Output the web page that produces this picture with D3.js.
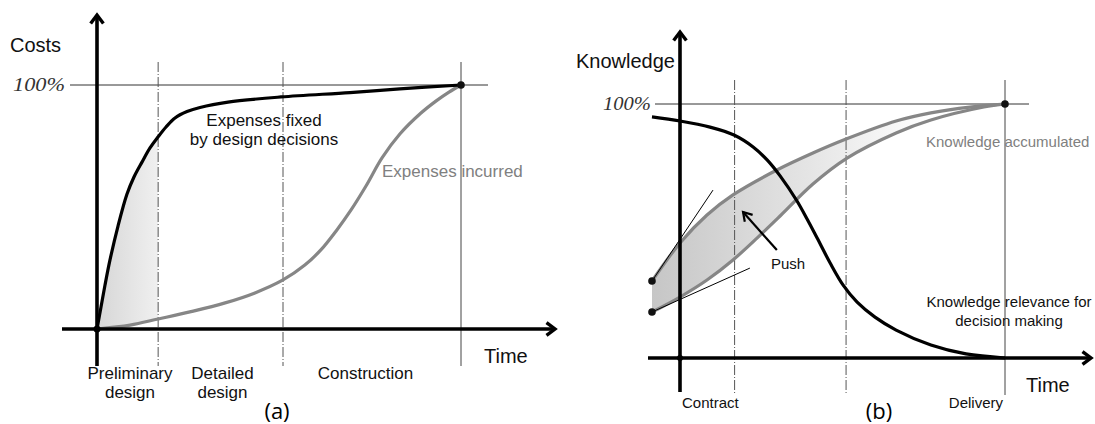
<!DOCTYPE html>
<html>
<head>
<meta charset="utf-8">
<script src="https://cdn.jsdelivr.net/npm/d3@7"></script>
<style>
  html, body { margin: 0; padding: 0; background: #fff; }
  svg { display: block; }
  .sans { font-family: "Liberation Sans", Arial, sans-serif; }
</style>
</head>
<body>
<svg id="chart" width="1095" height="424"></svg>
<script>
// ---- Data -------------------------------------------------------------
// Time is a fraction of the whole project (0 = start, 1 = delivery).
const phaseBounds = [0.168, 0.511];          // end of preliminary design, end of detailed design
const phaseLabels = [["Preliminary", "design"], ["Detailed", "design"], ["Construction"]];
const milestoneLabels = ["Contract", "Delivery"];

// (a) cost curves, % of total cost
const fixedT    = [0, 0.011, 0.022, 0.0357, 0.0577, 0.0824, 0.1016, 0.1236, 0.1456, 0.1676, 0.1896, 0.2143, 0.2473, 0.283, 0.36, 0.5055, 0.695, 0.832, 1];
const fixedVals = [0, 9.0,   18.0,  28.3,   42.2,   55.3,   62.3,   68.4,   74.2,   78.7,   82.8,   86.5,   89.1,   90.8,  93.0, 95.1,   96.9,  98.4,  100];
const incurredT    = [0, 0.091, 0.168, 0.255, 0.352, 0.434, 0.511, 0.571, 0.615, 0.657, 0.698, 0.739, 0.783, 0.832, 0.89, 0.931, 0.967, 1];
const incurredVals = [0, 1.6,   4.1,   7.0,   10.7,  14.8,  20.1,  26.2,  32.4,  40.2,  48.8,  58.6,  70.1,  79.9,  88.5, 93.4,  97.1,  100];

// (b) knowledge curves, %
const relevanceT    = [-0.0862, 0, 0.0923, 0.166, 0.225, 0.268, 0.308, 0.36, 0.391, 0.422, 0.462, 0.502, 0.545, 0.6, 0.665, 0.772, 0.88, 1];
const relevanceVals = [94.9,   93.3, 90.9, 87.8,  83.1,  78.0,  71.7,  61.8, 54.7,  47.2,  37.4,  28.7,  22.0,  16.1, 11.0, 5.1,   1.6,  0];
const upperT    = [-0.0862, 0, 0.083, 0.163, 0.298, 0.409, 0.511, 0.665, 0.772, 0.892, 1];
const upperVals = [30.3,   45.3, 56.3, 64.2, 74.0,  80.7,  86.2,  93.3,  96.5,  98.8,  100];
const lowerT    = [-0.0862, 0, 0.083, 0.163, 0.237, 0.308, 0.409, 0.514, 0.665, 0.772, 0.935, 1];
const lowerVals = [18.1,   24.0, 30.7, 38.6, 47.2,  55.9,  68.5,  78.7,  88.6,  93.7,  98.8,  100];
// tangents at the start of the accumulated-knowledge band, and the "push" arrow
const upperTangent = [[-0.0862, 30.3], [0.1015, 66.1]];
const lowerTangent = [[-0.0862, 18.1], [0.215, 35.4]];
const pushArrow    = [[0.298, 42.5], [0.194, 57.5]];

const zip = (ts, vs) => ts.map((t, i) => ({ t, v: vs[i] }));
const smooth = d3.curveCatmullRom.alpha(0.5);

// ---- Setup ------------------------------------------------------------
const svg = d3.select("#chart");
const defs = svg.append("defs");

const gradA = defs.append("linearGradient").attr("id", "fillA")
  .attr("gradientUnits", "userSpaceOnUse").attr("x1", 97).attr("x2", 158).attr("y1", 0).attr("y2", 0);
gradA.append("stop").attr("offset", 0).attr("stop-color", "#d6d6d6");
gradA.append("stop").attr("offset", 1).attr("stop-color", "#f0f0f0");

const gradB = defs.append("linearGradient").attr("id", "fillB")
  .attr("gradientUnits", "userSpaceOnUse").attr("x1", 652).attr("x2", 930).attr("y1", 0).attr("y2", 0);
gradB.append("stop").attr("offset", 0).attr("stop-color", "#c6c6c6");
gradB.append("stop").attr("offset", 0.55).attr("stop-color", "#e4e4e4");
gradB.append("stop").attr("offset", 1).attr("stop-color", "#ffffff");

function arrowHead(g, x, y, dir, size) {
  // open chevron arrow head; dir: "up" or "right"
  const s = size;
  const d = dir === "up"
    ? `M${x - s * 0.75},${y + s} L${x},${y} L${x + s * 0.75},${y + s}`
    : `M${x - s},${y - s * 0.75} L${x},${y} L${x - s},${y + s * 0.75}`;
  g.append("path").attr("d", d).attr("fill", "none").attr("stroke", "#000")
    .attr("stroke-width", 3.4).attr("stroke-linejoin", "miter").attr("stroke-linecap", "butt");
}

function drawAxes(g, ox, oy, yTop, yBottom, xLeft, xRight) {
  g.append("line").attr("x1", ox).attr("x2", ox).attr("y1", yBottom).attr("y2", yTop + 1)
    .attr("stroke", "#000").attr("stroke-width", 3.6);
  arrowHead(g, ox, yTop, "up", 8.5);
  g.append("line").attr("x1", xLeft).attr("x2", xRight - 1).attr("y1", oy).attr("y2", oy)
    .attr("stroke", "#000").attr("stroke-width", 3.6);
  arrowHead(g, xRight, oy, "right", 8.5);
}

function drawGuides(g, x, y, top, bottom, hLeft, hRight) {
  // 100% reference line
  g.append("line").attr("x1", hLeft).attr("x2", hRight).attr("y1", y(100)).attr("y2", y(100))
    .attr("stroke", "#333").attr("stroke-width", 1);
  // phase boundaries
  phaseBounds.forEach(t => {
    g.append("line").attr("x1", x(t)).attr("x2", x(t)).attr("y1", top).attr("y2", bottom)
      .attr("stroke", "#555").attr("stroke-width", 1).attr("stroke-dasharray", "10,2,1,2");
  });
  // end of project
  g.append("line").attr("x1", x(1)).attr("x2", x(1)).attr("y1", top).attr("y2", bottom)
    .attr("stroke", "#444").attr("stroke-width", 1);
}

// ---- Panel (a): costs -------------------------------------------------
{
  const g = svg.append("g");
  const x = d3.scaleLinear().domain([0, 1]).range([97, 461]);
  const y = d3.scaleLinear().domain([0, 100]).range([329, 85]);
  const line = d3.line().x(d => x(d.t)).y(d => y(d.v)).curve(smooth);

  const fixed = zip(fixedT, fixedVals);
  const incurred = zip(incurredT, incurredVals);

  // shaded gap between fixed and incurred costs during preliminary design
  defs.append("clipPath").attr("id", "aboveIncurred").append("path")
    .attr("d", d3.area().x(d => x(d.t)).y0(y(120)).y1(d => y(d.v)).curve(smooth)(incurred));
  defs.append("clipPath").attr("id", "prelimPhase").append("rect")
    .attr("x", x(0)).attr("y", 0).attr("width", x(phaseBounds[0]) - x(0)).attr("height", 424);
  g.append("g").attr("clip-path", "url(#prelimPhase)").append("path")
    .attr("clip-path", "url(#aboveIncurred)")
    .attr("d", d3.area().x(d => x(d.t)).y0(y(0)).y1(d => y(d.v)).curve(smooth)(fixed))
    .attr("fill", "url(#fillA)");

  drawGuides(g, x, y, 62, 366, 70, 488);

  g.append("path").attr("d", line(incurred)).attr("fill", "none")
    .attr("stroke", "#868686").attr("stroke-width", 3.2);
  g.append("path").attr("d", line(fixed)).attr("fill", "none")
    .attr("stroke", "#000").attr("stroke-width", 3.2);

  drawAxes(g, x(0), y(0), 15, 366, 62, 555);

  g.append("circle").attr("cx", x(0)).attr("cy", y(0)).attr("r", 3.5).attr("fill", "#000");
  g.append("circle").attr("cx", x(1)).attr("cy", y(100)).attr("r", 3.8).attr("fill", "#111");

  g.append("text").attr("class", "sans").attr("x", 10).attr("y", 52)
    .attr("font-size", 20).attr("fill", "#111").text("Costs");
  g.append("text").attr("x", 65).attr("y", 91).attr("text-anchor", "end")
    .attr("font-family", "Liberation Serif, serif").attr("font-style", "italic")
    .attr("font-size", 19).attr("textLength", 52).attr("lengthAdjust", "spacingAndGlyphs")
    .attr("fill", "#333").text("100%");

  const fx = g.append("text").attr("class", "sans").attr("text-anchor", "middle")
    .attr("font-size", 17).attr("fill", "#111");
  fx.append("tspan").attr("x", 264).attr("y", 126).text("Expenses fixed");
  fx.append("tspan").attr("x", 264).attr("y", 145).text("by design decisions");

  g.append("text").attr("class", "sans").attr("x", 382).attr("y", 177)
    .attr("font-size", 17).attr("fill", "#808080").text("Expenses incurred");

  g.append("text").attr("class", "sans").attr("x", 484).attr("y", 363)
    .attr("font-size", 20).attr("fill", "#111").text("Time");

  const labelCenters = [130, 222.5, 365.5];
  phaseLabels.forEach((lines, i) => {
    const t = g.append("text").attr("class", "sans").attr("text-anchor", "middle")
      .attr("font-size", 17).attr("fill", "#111");
    lines.forEach((s, j) => t.append("tspan").attr("x", labelCenters[i]).attr("y", 379 + j * 19).text(s));
  });

  g.append("text").attr("x", 277).attr("y", 419).attr("text-anchor", "middle")
    .attr("font-family", "Open Sans, sans-serif").attr("font-size", 22).attr("fill", "#000").text("(a)");
}

// ---- Panel (b): knowledge ---------------------------------------------
{
  const g = svg.append("g");
  const x = d3.scaleLinear().domain([0, 1]).range([680, 1005]);
  const y = d3.scaleLinear().domain([0, 100]).range([358, 104]);
  const line = d3.line().x(d => x(d.t)).y(d => y(d.v)).curve(smooth);

  const relevance = zip(relevanceT, relevanceVals);
  const upper = zip(upperT, upperVals);
  const lower = zip(lowerT, lowerVals);

  // accumulated-knowledge band
  defs.append("clipPath").attr("id", "aboveLower").append("path")
    .attr("d", d3.area().x(d => x(d.t)).y0(y(130)).y1(d => y(d.v)).curve(smooth)(lower));
  g.append("path").attr("clip-path", "url(#aboveLower)")
    .attr("d", d3.area().x(d => x(d.t)).y0(y(0)).y1(d => y(d.v)).curve(smooth)(upper))
    .attr("fill", "url(#fillB)");

  drawGuides(g, x, y, 80, 395, 655, 1029);

  g.append("path").attr("d", line(lower)).attr("fill", "none")
    .attr("stroke", "#868686").attr("stroke-width", 3.2);
  g.append("path").attr("d", line(upper)).attr("fill", "none")
    .attr("stroke", "#868686").attr("stroke-width", 3.2);

  [upperTangent, lowerTangent].forEach(seg => {
    g.append("line").attr("x1", x(seg[0][0])).attr("y1", y(seg[0][1]))
      .attr("x2", x(seg[1][0])).attr("y2", y(seg[1][1]))
      .attr("stroke", "#000").attr("stroke-width", 1);
  });

  g.append("path").attr("d", line(relevance)).attr("fill", "none")
    .attr("stroke", "#000").attr("stroke-width", 3.2);

  drawAxes(g, x(0), y(0), 32, 392, 648, 1091);

  [upperTangent[0], lowerTangent[0]].forEach(p => {
    g.append("circle").attr("cx", x(p[0])).attr("cy", y(p[1])).attr("r", 3.8).attr("fill", "#111");
  });
  g.append("circle").attr("cx", x(0)).attr("cy", y(0)).attr("r", 3).attr("fill", "#000");
  g.append("circle").attr("cx", x(1)).attr("cy", y(100)).attr("r", 3.8).attr("fill", "#111");

  // push arrow
  const [p0, p1] = pushArrow.map(p => [x(p[0]), y(p[1])]);
  g.append("line").attr("x1", p0[0]).attr("y1", p0[1]).attr("x2", p1[0]).attr("y2", p1[1])
    .attr("stroke", "#000").attr("stroke-width", 2.2);
  {
    const ang = Math.atan2(p1[1] - p0[1], p1[0] - p0[0]);
    const L = 10, w = 0.55;
    const a1 = [p1[0] - L * Math.cos(ang - w), p1[1] - L * Math.sin(ang - w)];
    const a2 = [p1[0] - L * Math.cos(ang + w), p1[1] - L * Math.sin(ang + w)];
    g.append("path").attr("d", `M${a1} L${p1} L${a2}`).attr("fill", "none")
      .attr("stroke", "#000").attr("stroke-width", 2.2);
  }

  g.append("text").attr("class", "sans").attr("x", 576).attr("y", 68)
    .attr("font-size", 20).attr("fill", "#111").text("Knowledge");
  g.append("text").attr("x", 651).attr("y", 110).attr("text-anchor", "end")
    .attr("font-family", "Liberation Serif, serif").attr("font-style", "italic")
    .attr("font-size", 19).attr("textLength", 48).attr("lengthAdjust", "spacingAndGlyphs")
    .attr("fill", "#333").text("100%");

  g.append("text").attr("class", "sans").attr("x", 926).attr("y", 147)
    .attr("font-size", 15).attr("fill", "#808080").text("Knowledge accumulated");
  g.append("text").attr("class", "sans").attr("x", 771).attr("y", 269)
    .attr("font-size", 15).attr("fill", "#111").text("Push");

  const kr = g.append("text").attr("class", "sans").attr("text-anchor", "middle")
    .attr("font-size", 15).attr("fill", "#111");
  kr.append("tspan").attr("x", 1009).attr("y", 307).text("Knowledge relevance for");
  kr.append("tspan").attr("x", 1009).attr("y", 326).text("decision making");

  g.append("text").attr("class", "sans").attr("x", 1026).attr("y", 392)
    .attr("font-size", 20).attr("fill", "#111").text("Time");

  g.append("text").attr("class", "sans").attr("x", x(0) + 2).attr("y", 408)
    .attr("font-size", 15).attr("fill", "#111").text(milestoneLabels[0]);
  g.append("text").attr("class", "sans").attr("x", x(1) - 2).attr("y", 408)
    .attr("text-anchor", "end").attr("font-size", 15).attr("fill", "#111").text(milestoneLabels[1]);

  g.append("text").attr("x", 879).attr("y", 419).attr("text-anchor", "middle")
    .attr("font-family", "Open Sans, sans-serif").attr("font-size", 22).attr("fill", "#000").text("(b)");
}
</script>
</body>
</html>
